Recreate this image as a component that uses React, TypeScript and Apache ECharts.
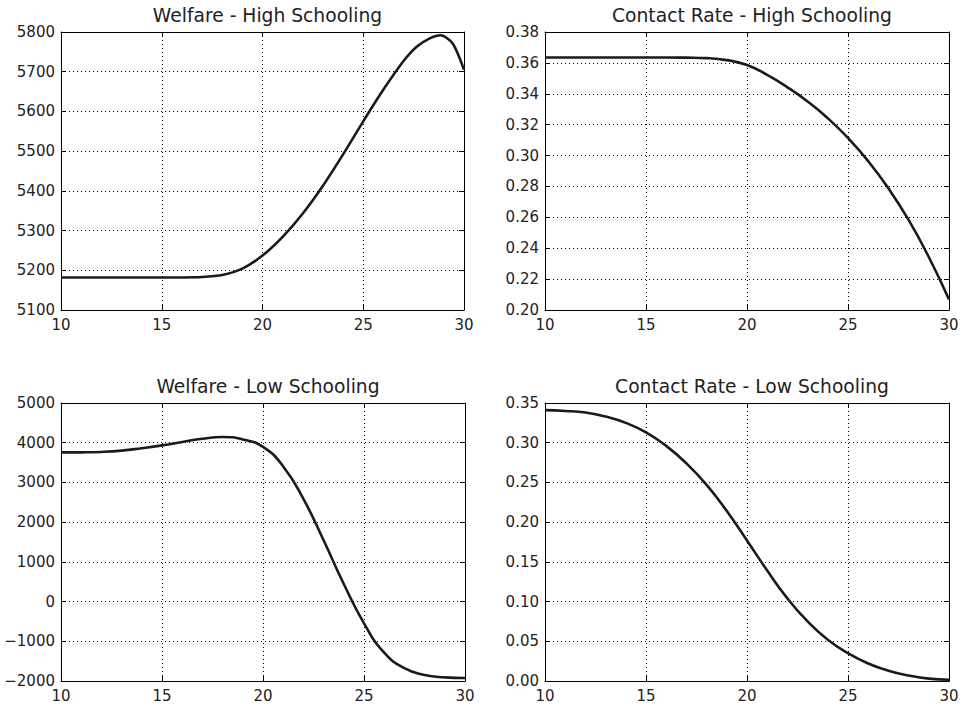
import React, { useEffect, useRef } from "react";
import * as echarts from "echarts";

// ---- Data ----
const titles = [
  "Welfare - High Schooling",
  "Contact Rate - High Schooling",
  "Welfare - Low Schooling",
  "Contact Rate - Low Schooling",
];

const xWelfareHigh = [10, 11, 12, 13, 14, 15, 16, 17, 18, 19, 20, 21, 22, 23, 24, 25, 26, 27, 27.65, 28.3, 28.84, 29.44, 30];
const welfareHigh = [5182, 5182, 5182, 5182, 5182, 5182, 5182, 5183, 5188, 5204, 5237, 5284, 5343, 5413, 5492, 5575, 5655, 5727, 5763, 5784, 5792, 5771, 5705];

const xContactHigh = [10, 11, 12, 13, 14, 15, 16, 17, 18, 19, 20, 21, 22, 23, 24, 25, 26, 27, 28, 29, 30];
const contactHigh = [0.3635, 0.3635, 0.3635, 0.3635, 0.3635, 0.3635, 0.3635, 0.3634, 0.3631, 0.3618, 0.3586, 0.3522, 0.3442, 0.335, 0.3242, 0.3114, 0.2964, 0.2788, 0.2583, 0.2343, 0.2068];

const xWelfareLow = [10, 11, 12, 13, 14, 15, 16, 17, 18, 19, 20, 21, 22, 23, 24, 25, 26, 27, 28, 29, 30];
const welfareLow = [3756, 3758, 3768, 3800, 3862, 3933, 4017, 4100, 4143, 4083, 3895, 3403, 2583, 1543, 443, -547, -1287, -1677, -1850, -1908, -1925];

const xContactLow = [10, 11, 12, 13, 14, 15, 16, 17, 18, 19, 20, 21, 22, 23, 24, 25, 26, 27, 28, 29, 30];
const contactLow = [0.341, 0.34, 0.338, 0.333, 0.325, 0.313, 0.296, 0.274, 0.247, 0.214, 0.177, 0.139, 0.104, 0.075, 0.052, 0.035, 0.022, 0.013, 0.007, 0.003, 0.0015];

const xTicks = { min: 10, max: 30, interval: 5 };
const yScales = [
  { min: 5100, max: 5800, interval: 100, decimals: 0 },
  { min: 0.2, max: 0.38, interval: 0.02, decimals: 2 },
  { min: -2000, max: 5000, interval: 1000, decimals: 0 },
  { min: 0, max: 0.35, interval: 0.05, decimals: 2 },
];

const seriesX = [xWelfareHigh, xContactHigh, xWelfareLow, xContactLow];
const seriesY = [welfareHigh, contactHigh, welfareLow, contactLow];

// ---- Layout ----
const grids = [
  { left: 61, top: 32, width: 403, height: 278 },
  { left: 545, top: 32, width: 404, height: 278 },
  { left: 61, top: 403, width: 404, height: 278 },
  { left: 545, top: 403, width: 404, height: 278 },
];
const titleTops = [1, 1, 372, 372];

const FONT = "DejaVu Sans";
const TXT = "#222";

export default function App() {
  const ref = useRef<HTMLDivElement>(null);
  useEffect(() => {
    if (!ref.current) return;
    const chart = echarts.init(ref.current, undefined, { renderer: "svg" });

    const xAxis: any[] = [];
    const yAxis: any[] = [];
    const series: any[] = [];
    const title: any[] = [];

    grids.forEach((g, i) => {
      const ys = yScales[i];
      const fmtY = (v: number) => v.toFixed(ys.decimals).replace("-", "\u2212");
      title.push({
        text: titles[i],
        left: g.left + g.width / 2,
        top: titleTops[i],
        textAlign: "center",
        textStyle: { fontFamily: FONT, fontSize: 18.7, fontWeight: "normal", color: TXT },
      });
      const tick = { show: true, inside: true, length: 5, lineStyle: { color: "#000", width: 1 } };
      const line = { show: true, onZero: false, lineStyle: { color: "#000", width: 1 } };
      xAxis.push({
        type: "value",
        gridIndex: i,
        position: "bottom",
        ...xTicks,
        axisLine: line,
        axisTick: tick,
        axisLabel: { show: true, margin: 7, fontFamily: FONT, fontSize: 15, color: TXT, showMinLabel: true, showMaxLabel: true },
        splitLine: { show: true, lineStyle: { color: "#000", width: 1, type: [1, 3] } },
      });
      xAxis.push({
        type: "value",
        gridIndex: i,
        position: "top",
        ...xTicks,
        axisLine: line,
        axisTick: tick,
        axisLabel: { show: false },
        splitLine: { show: false },
      });
      yAxis.push({
        type: "value",
        gridIndex: i,
        position: "left",
        min: ys.min,
        max: ys.max,
        interval: ys.interval,
        axisLine: line,
        axisTick: tick,
        axisLabel: { show: true, margin: 6, fontFamily: FONT, fontSize: 15, color: TXT, formatter: fmtY, showMinLabel: true, showMaxLabel: true },
        splitLine: { show: true, lineStyle: { color: "#000", width: 1, type: [1, 3] } },
      });
      yAxis.push({
        type: "value",
        gridIndex: i,
        position: "right",
        min: ys.min,
        max: ys.max,
        interval: ys.interval,
        axisLine: line,
        axisTick: tick,
        axisLabel: { show: false },
        splitLine: { show: false },
      });
      series.push({
        type: "line",
        xAxisIndex: i * 2,
        yAxisIndex: i * 2,
        data: seriesX[i].map((x, k) => [x, seriesY[i][k]]),
        showSymbol: false,
        symbol: "none",
        smooth: i === 0 ? 0.25 : 0.5,
        lineStyle: { color: "#1a1a1a", width: 2.6 },
        clip: true,
      });
    });

    chart.setOption({
      animation: false,
      backgroundColor: "#fff",
      title,
      grid: grids.map((g) => ({ ...g, containLabel: false })),
      xAxis,
      yAxis,
      series,
    });
    return () => chart.dispose();
  }, []);

  return (
    <div
      ref={ref}
      style={{ position: "fixed", left: 0, top: 0, width: 965, height: 711, background: "#fff" }}
    />
  );
}
